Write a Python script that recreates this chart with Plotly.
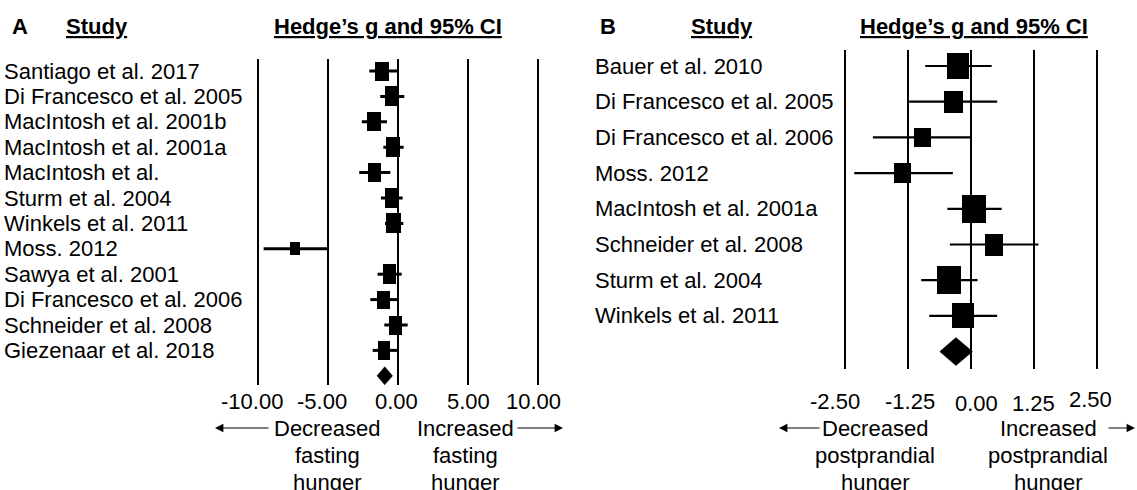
import plotly.graph_objects as go

W, H = 1137, 490

# ---------------- data: panel A (fasting hunger) ----------------
studies_a = ["Santiago et al. 2017", "Di Francesco et al. 2005", "MacIntosh et al. 2001b",
             "MacIntosh et al. 2001a", "MacIntosh et al.", "Sturm et al. 2004",
             "Winkels et al. 2011", "Moss. 2012", "Sawya et al. 2001",
             "Di Francesco et al. 2006", "Schneider et al. 2008", "Giezenaar et al. 2018"]
g_a = [-1.12, -0.45, -1.69, -0.33, -1.67, -0.48, -0.31, -7.38, -0.60, -1.07, -0.17, -1.00]
lo_a = [-2.07, -1.29, -2.60, -1.07, -2.79, -1.24, -0.95, -9.62, -1.48, -2.00, -1.00, -1.83]
hi_a = [-0.05, 0.43, -0.81, 0.38, -0.57, 0.31, 0.36, -5.05, 0.24, -0.05, 0.67, -0.05]
pooled_a = [-0.97, -1.52, -0.41]          # estimate, lower, upper
ticks_a = [-10, -5, 0, 5, 10]
ticktext_a = ["-10.00", "-5.00", "0.00", "5.00", "10.00"]

# ---------------- data: panel B (postprandial hunger) ----------------
studies_b = ["Bauer et al. 2010", "Di Francesco et al. 2005", "Di Francesco et al. 2006",
             "Moss. 2012", "MacIntosh et al. 2001a", "Schneider et al. 2008",
             "Sturm et al. 2004", "Winkels et al. 2011"]
g_b = [-0.26, -0.35, -0.97, -1.35, 0.06, 0.46, -0.43, -0.15]
lo_b = [-0.91, -1.23, -1.95, -2.32, -0.47, -0.42, -0.99, -0.83]
hi_b = [0.41, 0.52, 0.00, -0.36, 0.61, 1.34, 0.13, 0.52]
pooled_b = [-0.30, -0.62, 0.03]
ticks_b = [-2.5, -1.25, 0, 1.25, 2.5]
ticktext_b = ["-2.50", "-1.25", "0.00", "1.25", "2.50"]

# ---------------- styles / geometry ----------------
FONT = "Arial, Liberation Sans, sans-serif"
FS = 22
# square marker sizes (px): width, height
sqw_a = [14, 13, 14, 14, 13, 13, 15, 10, 13, 13, 13, 12]
sqh_a = [19, 20, 19, 20, 19, 20, 20, 13, 20, 18, 19, 19]
sqw_b = [22, 19, 17, 17, 24, 18, 24, 22]
sqh_b = [26, 22, 19, 20, 28, 22, 28, 25]

geomA = dict(zero=398.3, ppu=14.0, row0=71.0, step=25.4, top=59, bot=385, xr=[-10.5, 10.5], ciw=3)
geomB = dict(zero=971.0, ppu=50.32, row0=66.0, step=35.7, top=50, bot=369, xr=[-2.7, 2.7], ciw=2.2)


def axes_for(geom):
    xd = [(geom["zero"] + geom["xr"][0] * geom["ppu"]) / W,
          (geom["zero"] + geom["xr"][1] * geom["ppu"]) / W]
    yd = [1 - geom["bot"] / H, 1 - geom["top"] / H]
    yr = [(geom["bot"] - geom["row0"]) / geom["step"], (geom["top"] - geom["row0"]) / geom["step"]]
    return xd, yd, yr


fig = go.Figure()


def add_panel(g, lo, hi, pooled, sqw, sqh, geom, xref, yref, diamond_h_px):
    n = len(g)
    rows = list(range(n))
    ppu, step = geom["ppu"], geom["step"]
    wu = [w / ppu for w in sqw]
    fig.add_trace(go.Bar(
        orientation="h", y=rows, x=wu, base=[gi - w / 2 for gi, w in zip(g, wu)],
        width=[h / step for h in sqh], marker=dict(color="black", line=dict(width=0)),
        xaxis=xref, yaxis=yref, showlegend=False, hoverinfo="skip"))
    xs, ys = [], []
    for i in rows:
        xs += [lo[i], hi[i], None]
        ys += [i, i, None]
    fig.add_trace(go.Scatter(x=xs, y=ys, mode="lines", line=dict(color="black", width=geom["ciw"]),
                             xaxis=xref, yaxis=yref, showlegend=False, hoverinfo="skip"))
    est, plo, phi = pooled
    r = n
    hh = diamond_h_px / step
    fig.add_trace(go.Scatter(x=[plo, est, phi, est, plo], y=[r, r - hh, r, r + hh, r],
                             mode="lines", fill="toself", fillcolor="black",
                             line=dict(color="black", width=0.5),
                             xaxis=xref, yaxis=yref, showlegend=False, hoverinfo="skip"))


add_panel(g_a, lo_a, hi_a, pooled_a, sqw_a, sqh_a, geomA, "x", "y", 9)
add_panel(g_b, lo_b, hi_b, pooled_b, sqw_b, sqh_b, geomB, "x2", "y2", 14)

xdA, ydA, yrA = axes_for(geomA)
xdB, ydB, yrB = axes_for(geomB)

ann = []


def txt(text, x, y, xref="paper", yref="paper", xanchor="center", size=FS, bold=False, **kw):
    ann.append(dict(text=("<b>%s</b>" % text) if bold else text, x=x, y=y, xref=xref, yref=yref,
                    xanchor=xanchor, yanchor="middle", showarrow=False,
                    font=dict(family=FONT, size=size, color="black"), **kw))


# study labels
for i, s in enumerate(studies_a):
    txt(s, 2 / W, i, yref="y", xanchor="left")
for i, s in enumerate(studies_b):
    txt(s, 593 / W, i, yref="y2", xanchor="left")

# tick labels
shift_a = [-6, -6, -2, 0, -5]
for v, t, s in zip(ticks_a, ticktext_a, shift_a):
    txt(t, v, 1 - 401 / H, xref="x", xshift=s)
shift_b = [-10, 2, 6, 0, -6]
yshift_b = [0, 0, -2, -2, 2]
for v, t, s, ys in zip(ticks_b, ticktext_b, shift_b, yshift_b):
    txt(t, v, 1 - 401 / H, xref="x2", xshift=s, yshift=ys)

# headers
yh = 1 - 27 / H
txt("A", 20 / W, yh, bold=True)
txt("<u>Study</u>", 97 / W, yh, bold=True)
txt("<u>Hedge’s g and 95% CI</u>", 388 / W, yh, bold=True)
txt("B", 608 / W, yh, bold=True)
txt("<u>Study</u>", 722 / W, yh, bold=True)
txt("<u>Hedge’s g and 95% CI</u>", 974 / W, yh, bold=True)

# direction captions
lines_y = [428, 455, 482]
for cx, words in [(327, ["Decreased", "fasting", "hunger"]),
                  (465, ["Increased", "fasting", "hunger"]),
                  (875, ["Decreased", "postprandial", "hunger"]),
                  (1048, ["Increased", "postprandial", "hunger"])]:
    for wd, yy in zip(words, lines_y):
        txt(wd, cx / W, 1 - yy / H)

# arrows (tip, tail)
for tip, tail in [(215, 270), (563, 516), (779, 821), (1135, 1107)]:
    ann.append(dict(x=tip / W, y=1 - 428 / H, xref="paper", yref="paper", ax=tail - tip, ay=0,
                    text="", showarrow=True, arrowhead=2, arrowsize=1.4, arrowwidth=1.2,
                    arrowcolor="black", standoff=0))

common_x = dict(showgrid=True, gridcolor="black", gridwidth=2, showticklabels=False,
                zeroline=False, showline=False, ticks="", fixedrange=True)
common_y = dict(visible=False, showgrid=False, zeroline=False, fixedrange=True)

fig.update_layout(
    width=W, height=H, margin=dict(l=0, r=0, t=0, b=0),
    paper_bgcolor="white", plot_bgcolor="white", bargap=0,
    xaxis=dict(domain=xdA, range=geomA["xr"], tickvals=ticks_a, anchor="y", **common_x),
    yaxis=dict(domain=ydA, range=yrA, anchor="x", **common_y),
    xaxis2=dict(domain=xdB, range=geomB["xr"], tickvals=ticks_b, anchor="y2", **common_x),
    yaxis2=dict(domain=ydB, range=yrB, anchor="x2", **common_y),
    annotations=ann,
)

fig.write_html("out.html", config={"displayModeBar": False},
               post_script="document.body.style.margin='0';document.body.style.overflow='hidden';")
